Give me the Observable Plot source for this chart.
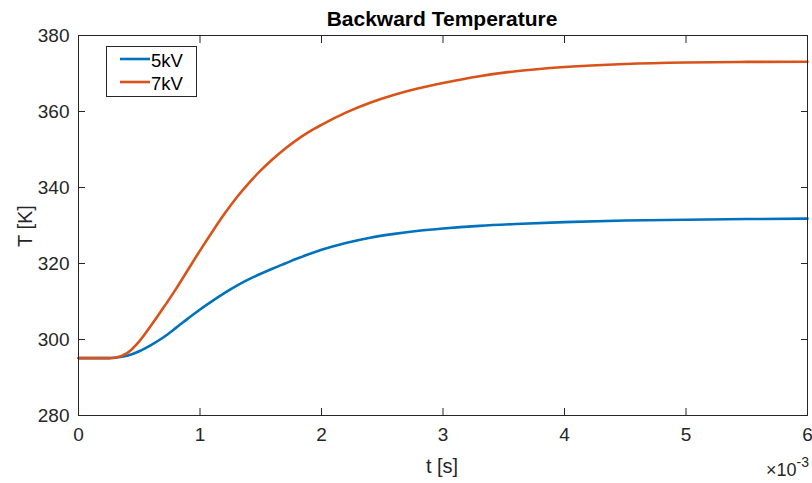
<!DOCTYPE html>
<html>
<head>
<meta charset="utf-8">
<script src="https://cdn.jsdelivr.net/npm/d3@7"></script>
<script src="https://cdn.jsdelivr.net/npm/@observablehq/plot@0.6"></script>
<style>
  html, body { margin: 0; padding: 0; background: #fff; }
  #chart svg { display: block; }
</style>
</head>
<body>
<div id="chart"></div>
<script>
// time in units of 1e-3 s
const series = ["5kV", "7kV"];
const colors = ["#0072BD", "#D95319"];

const t5 = [0, 0.25, 0.3, 0.4, 0.5, 0.6, 0.7, 0.8, 0.9, 1.0, 1.1, 1.2, 1.3, 1.4, 1.5, 1.6, 1.7, 1.8, 1.9, 2.0, 2.2, 2.4, 2.6, 2.8, 3.0, 3.3, 3.6, 4.0, 4.5, 5.0, 5.5, 6.0];
const T5 = [295.1, 295.1, 295.2, 295.7, 296.9, 298.6, 300.6, 303.0, 305.5, 307.9, 310.1, 312.2, 314.1, 315.8, 317.3, 318.7, 320.0, 321.3, 322.5, 323.6, 325.4, 326.8, 327.8, 328.6, 329.2, 329.9, 330.4, 330.9, 331.3, 331.5, 331.7, 331.8];

const t7 = [0, 0.25, 0.3, 0.4, 0.5, 0.6, 0.7, 0.8, 0.9, 1.0, 1.1, 1.2, 1.3, 1.4, 1.5, 1.6, 1.7, 1.8, 1.9, 2.0, 2.2, 2.4, 2.6, 2.8, 3.0, 3.3, 3.6, 4.0, 4.5, 5.0, 5.5, 6.0];
const T7 = [295.1, 295.1, 295.2, 296.4, 299.5, 303.8, 308.4, 313.2, 318.3, 323.4, 328.3, 333.0, 337.3, 341.1, 344.5, 347.5, 350.2, 352.6, 354.7, 356.5, 359.7, 362.3, 364.4, 366.1, 367.5, 369.3, 370.6, 371.7, 372.5, 372.9, 373.05, 373.1];

const xTicks = [0, 1, 2, 3, 4, 5, 6];
const yTicks = [280, 300, 320, 340, 360, 380];

const title = "Backward Temperature";
const xLabel = "t [s]";
const yLabel = "T [K]";

const data = [
  ...t5.map((t, i) => ({t, T: T5[i], s: series[0]})),
  ...t7.map((t, i) => ({t, T: T7[i], s: series[1]}))
];

const W = 812, H = 483;
const axisColor = "#262626";
const font = "'Liberation Sans', Arial, Helvetica, sans-serif";

const plot = Plot.plot({
  width: W,
  height: H,
  marginLeft: 78,
  marginRight: 5,
  marginTop: 35,
  marginBottom: 68,
  style: {fontFamily: font, fontSize: "19px", color: axisColor, background: "#fff"},
  x: {domain: [0, 6]},
  y: {domain: [280, 380]},
  color: {domain: series, range: colors},
  marks: [
    Plot.line(data, {x: "t", y: "T", z: "s", stroke: "s", strokeWidth: 2.6, curve: "monotone-x"}),
    Plot.frame({stroke: axisColor, strokeWidth: 1}),
    Plot.axisX(xTicks, {anchor: "bottom", tickSize: -7, text: null, label: null, stroke: axisColor}),
    Plot.axisX(xTicks, {anchor: "top", tickSize: -7, text: null, label: null, stroke: axisColor}),
    Plot.axisY(yTicks, {anchor: "left", tickSize: -7, text: null, label: null, stroke: axisColor}),
    Plot.axisY(yTicks, {anchor: "right", tickSize: -7, text: null, label: null, stroke: axisColor}),
    Plot.axisX(xTicks, {anchor: "bottom", tickSize: 0, tickPadding: 12, label: null, tickFormat: d => String(d), fontSize: 19, fill: axisColor}),
    Plot.axisY(yTicks, {anchor: "left", tickSize: 0, tickPadding: 9, label: null, tickFormat: d => String(d), fontSize: 19, fill: axisColor})
  ]
});

document.getElementById("chart").appendChild(plot);

const svg = d3.select(plot);
// Title
svg.append("text")
  .attr("x", 442).attr("y", 26)
  .attr("text-anchor", "middle")
  .attr("font-family", font).attr("font-size", 21).attr("font-weight", "bold")
  .attr("fill", "#000")
  .text(title);
// x label
svg.append("text")
  .attr("x", 442).attr("y", 473)
  .attr("text-anchor", "middle")
  .attr("font-family", font).attr("font-size", 20)
  .attr("fill", axisColor)
  .text(xLabel);
// y label
svg.append("text")
  .attr("transform", "translate(32,226) rotate(-90)")
  .attr("text-anchor", "middle")
  .attr("font-family", font).attr("font-size", 20)
  .attr("fill", axisColor)
  .text(yLabel);
// exponent
const ex = svg.append("text")
  .attr("x", 809).attr("y", 476)
  .attr("text-anchor", "end")
  .attr("font-family", font).attr("font-size", 18)
  .attr("fill", axisColor);
ex.append("tspan").text("×10");
ex.append("tspan").attr("dy", -9).attr("font-size", 14).text("-3");

// Legend
const lg = svg.append("g");
lg.append("rect")
  .attr("x", 106.5).attr("y", 46.5).attr("width", 90).attr("height", 50)
  .attr("fill", "#fff").attr("stroke", axisColor).attr("stroke-width", 1);
series.forEach((s, i) => {
  const y = 59 + i * 23;
  lg.append("line")
    .attr("x1", 120).attr("x2", 150).attr("y1", y).attr("y2", y)
    .attr("stroke", colors[i]).attr("stroke-width", 2.6);
  lg.append("text")
    .attr("x", 151).attr("y", y + 7.5)
    .attr("text-anchor", "start")
    .attr("font-family", font).attr("font-size", 18.5)
    .attr("fill", "#000")
    .text(s);
});
</script>
</body>
</html>
